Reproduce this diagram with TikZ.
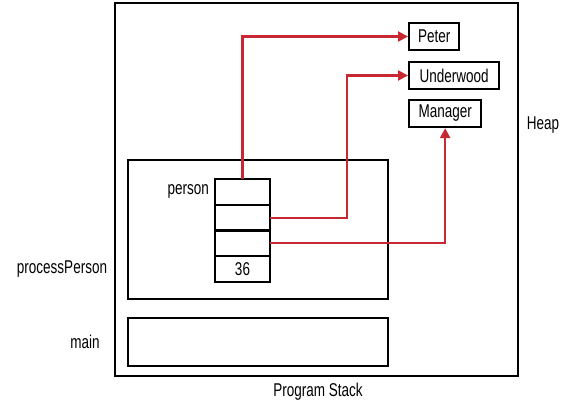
\documentclass[tikz,border=0pt]{standalone}
\usepackage{fontspec}
\setmainfont{Liberation Sans}[FakeStretch=0.73]
\usetikzlibrary{arrows.meta}
\definecolor{refred}{RGB}{200,40,50}
\tikzset{
    frame/.style={draw, line width=2.3pt, inner sep=0pt},
    cell/.style={frame, outer sep=0pt, minimum width=55pt, minimum height=25.6pt, anchor=north},
    obj/.style={frame, minimum height=27pt, anchor=west},
    ref/.style={draw=refred, line width=2.3pt, -{Triangle[length=10pt,width=10pt]}},
    lbl/.style={inner sep=0pt}
}
\begin{document}
\begin{tikzpicture}[x=1pt, y=-1pt, font=\fontsize{18.5}{21}\selectfont]
    \useasboundingbox (0,0) rectangle (562,404);
    % heap and program stack
    \node[frame, minimum width=403pt, minimum height=373pt] (heap) at (316.5,189.5) {};
    \node[lbl] (heaplbl) at (543,125) {Heap};
    \node[lbl] (stacklbl) at (318,392) {Program Stack};
    % stack frames
    \node[frame, minimum width=260pt, minimum height=139pt] (pp) at (258,229.5) {};
    \node[frame, minimum width=260pt, minimum height=48pt] (mainframe) at (258,342) {};
    \node[lbl] (pplbl) at (62,269) {processPerson};
    \node[lbl] (mainlbl) at (85,342) {main};
    % the person object in the frame
    \node[cell] (c1) at (242.5,179.3) {};
    \node[cell] (c2) at (c1.south) {};
    \node[cell] (c3) at (c2.south) {};
    \node[cell] (c4) at (c3.south) {36};
    \node[lbl, anchor=east] (personlbl) at (209,191) {person};
    % objects on the heap
    \node[obj, minimum width=50pt] (peter) at (408,36.5) {Peter};
    \node[obj, minimum width=90pt] (underwood) at (408,75.5) {Underwood};
    \node[obj, minimum width=72pt] (manager) at (408,113.5) {Manager};
    % references
    \draw[ref] (c1.north) |- (peter.west);
    \draw[ref] (c2.east) -- ++(77,0) |- (underwood.west);
    \draw[ref] (c3.east) -| (manager.south);
\end{tikzpicture}
\end{document}
